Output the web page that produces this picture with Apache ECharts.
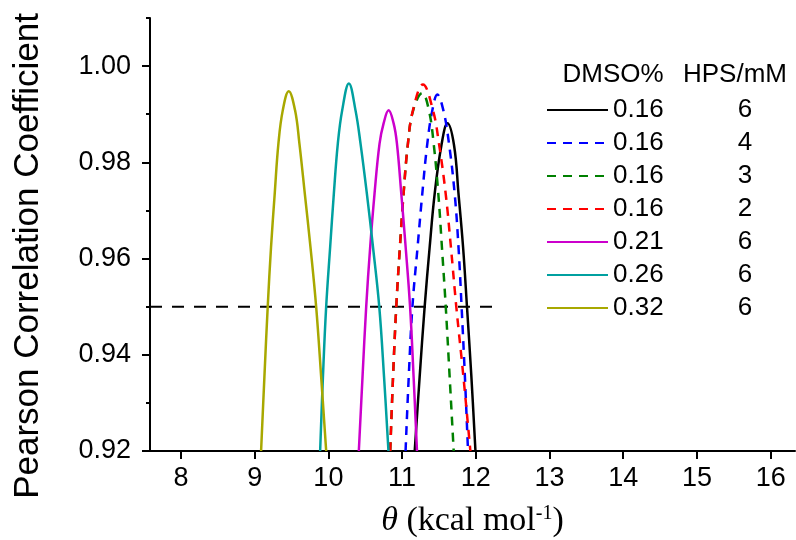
<!DOCTYPE html>
<html>
<head>
<meta charset="utf-8">
<script src="https://cdn.jsdelivr.net/npm/echarts@6/dist/echarts.min.js"></script>
<style>html,body{margin:0;padding:0;background:#fff}#c{width:796px;height:540px}</style>
</head>
<body>
<div id="c"></div>
<script>
// ---- data ----
const xTicks = [8, 9, 10, 11, 12, 13, 14, 15, 16];
const yTicks = [0.92, 0.94, 0.96, 0.98, 1.00];
const dmso = ['0.16', '0.16', '0.16', '0.16', '0.21', '0.26', '0.32'];
const hps  = ['6', '4', '3', '2', '6', '6', '6'];
const threshold = 0.95;
const thresholdX = [7.58, 12.32];

const curve016_6 = [[11.171,0.92],[11.238,0.9354],[11.306,0.95],[11.374,0.9624],[11.442,0.9735],[11.533,0.9835],[11.615,0.9881],[11.705,0.9835],[11.765,0.9735],[11.827,0.9624],[11.880,0.95],[11.940,0.9354],[11.995,0.92]];
const curve016_4 = [[11.047,0.92],[11.090,0.9354],[11.140,0.95],[11.210,0.9624],[11.274,0.9735],[11.342,0.9839],[11.410,0.9908],[11.478,0.9941],[11.560,0.9908],[11.636,0.9839],[11.713,0.9735],[11.765,0.9624],[11.807,0.95],[11.852,0.9354],[11.894,0.92]];
const curve016_3 = [[10.839,0.92],[10.877,0.9354],[10.921,0.95],[10.970,0.9624],[11.020,0.9735],[11.079,0.9839],[11.150,0.9908],[11.274,0.9944],[11.364,0.9908],[11.428,0.9839],[11.491,0.9735],[11.540,0.9624],[11.592,0.95],[11.645,0.9354],[11.700,0.92]];
const curve016_2 = [[10.839,0.92],[10.877,0.9354],[10.921,0.95],[10.970,0.9624],[11.020,0.9735],[11.079,0.9839],[11.147,0.9908],[11.283,0.9962],[11.419,0.9908],[11.500,0.9839],[11.591,0.9735],[11.662,0.9624],[11.735,0.95],[11.832,0.9354],[11.926,0.92]];
const curve021_6 = [[10.413,0.92],[10.463,0.9354],[10.513,0.95],[10.567,0.9624],[10.626,0.9735],[10.694,0.9839],[10.749,0.9881],[10.817,0.9908],[10.885,0.9881],[10.930,0.9839],[10.989,0.9735],[11.048,0.9624],[11.108,0.95],[11.156,0.9354],[11.202,0.92]];
const curve026_6 = [[9.888,0.92],[9.926,0.9354],[9.970,0.95],[10.024,0.9624],[10.074,0.9735],[10.128,0.9839],[10.187,0.9908],[10.278,0.9964],[10.368,0.9908],[10.436,0.9839],[10.522,0.9735],[10.605,0.9624],[10.690,0.95],[10.755,0.9354],[10.815,0.92]];
const curve032_6 = [[9.087,0.92],[9.132,0.9354],[9.177,0.95],[9.222,0.9624],[9.272,0.9735],[9.322,0.9839],[9.381,0.9908],[9.462,0.9948],[9.548,0.9908],[9.607,0.9839],[9.680,0.9735],[9.757,0.9624],[9.834,0.95],[9.902,0.9354],[9.970,0.92]];

const curves = [curve016_6, curve016_4, curve016_3, curve016_2, curve021_6, curve026_6, curve032_6];
const colors = ['#000000', '#0000ff', '#008000', '#ff0000', '#cc00cc', '#00a0a0', '#a8a800'];
const dashed = [false, true, true, true, false, false, false];

// ---- chart ----
const SANS = 'Liberation Sans, Arial, sans-serif';
const SERIF = 'Liberation Serif, Times New Roman, serif';
const names = dmso.map((d, i) => d + '|' + hps[i]);

const series = curves.map((c, i) => ({
  name: names[i],
  type: 'line',
  data: c,
  smooth: 0.4,
  symbol: 'none',
  symbolSize: 0,
  clip: true,
  lineStyle: { color: colors[i], width: 2.5, type: dashed[i] ? [9, 7] : 'solid' },
  itemStyle: { color: colors[i] },
  z: 3
}));
series.push({
  name: 'threshold',
  type: 'line',
  data: thresholdX.map(x => [x, threshold]),
  symbol: 'none',
  lineStyle: { color: '#000', width: 2, type: [12, 10] },
  z: 2
});

const chart = echarts.init(document.getElementById('c'), null, { renderer: 'canvas' });
chart.setOption({
  animation: false,
  backgroundColor: '#fff',
  grid: { left: 150, top: 18, width: 645, bottom: 89, containLabel: false, outerBoundsMode: 'none' },
  xAxis: {
    type: 'value', min: 7.58, max: 16.33,
    axisLine: { lineStyle: { color: '#000', width: 2 } },
    axisTick: { show: true, length: 8, inside: false, lineStyle: { color: '#000', width: 2 }, customValues: xTicks },
    axisLabel: { customValues: xTicks, fontSize: 27, fontFamily: SANS, color: '#000', margin: 14 },
    splitLine: { show: false },
    name: '{t|θ} (kcal mol{s|-1})',
    nameLocation: 'middle',
    nameGap: 53,
    nameTextStyle: {
      fontFamily: SERIF, fontSize: 34, color: '#000',
      rich: {
        t: { fontFamily: SERIF, fontSize: 34, fontStyle: 'italic', color: '#000' },
        s: { fontFamily: SERIF, fontSize: 20, color: '#000', verticalAlign: 'top', padding: [0, 0, 12, 0] }
      }
    }
  },
  yAxis: [{
    type: 'value', min: 0.92, max: 1.01,
    axisLine: { show: true, lineStyle: { color: '#000', width: 2 } },
    axisTick: { show: true, length: 8, lineStyle: { color: '#000', width: 2 }, customValues: yTicks },
    axisLabel: { customValues: yTicks, fontSize: 27, fontFamily: SANS, color: '#000', margin: 19,
      formatter: v => v.toFixed(2) },
    splitLine: { show: false }
  }, {
    type: 'value', min: 0.92, max: 1.01, interval: 0.01, position: 'left',
    axisLine: { show: false },
    axisTick: { show: true, length: 4, lineStyle: { color: '#000', width: 2 } },
    axisLabel: { show: false },
    splitLine: { show: false }
  }],
  legend: {
    data: names,
    orient: 'vertical',
    left: 541, top: 92,
    itemWidth: 61, itemHeight: 26, itemGap: 7,
    selectedMode: false,
    itemStyle: { opacity: 0 },
    formatter: n => { const p = n.split('|'); return '{a|' + p[0] + '}{b|' + p[1] + '}'; },
    textStyle: {
      fontSize: 26, fontFamily: SANS, color: '#000', lineHeight: 26,
      rich: {
        a: { fontSize: 26, fontFamily: SANS, color: '#000', width: 100, align: 'left' },
        b: { fontSize: 26, fontFamily: SANS, color: '#000', width: 64, align: 'center' }
      }
    }
  },
  graphic: [
    { type: 'text', x: 28, y: 256, rotation: Math.PI / 2,
      style: { text: 'Pearson Correlation Coefficient', fontSize: 35, fontFamily: SANS, fill: '#000', align: 'center', verticalAlign: 'middle' } },
    { type: 'text', x: 613, y: 75,
      style: { text: 'DMSO%', fontSize: 26, fontFamily: SANS, fill: '#000', align: 'center', verticalAlign: 'middle' } },
    { type: 'text', x: 735, y: 75,
      style: { text: 'HPS/mM', fontSize: 26, fontFamily: SANS, fill: '#000', align: 'center', verticalAlign: 'middle' } }
  ],
  series: series
});
</script>
</body>
</html>
